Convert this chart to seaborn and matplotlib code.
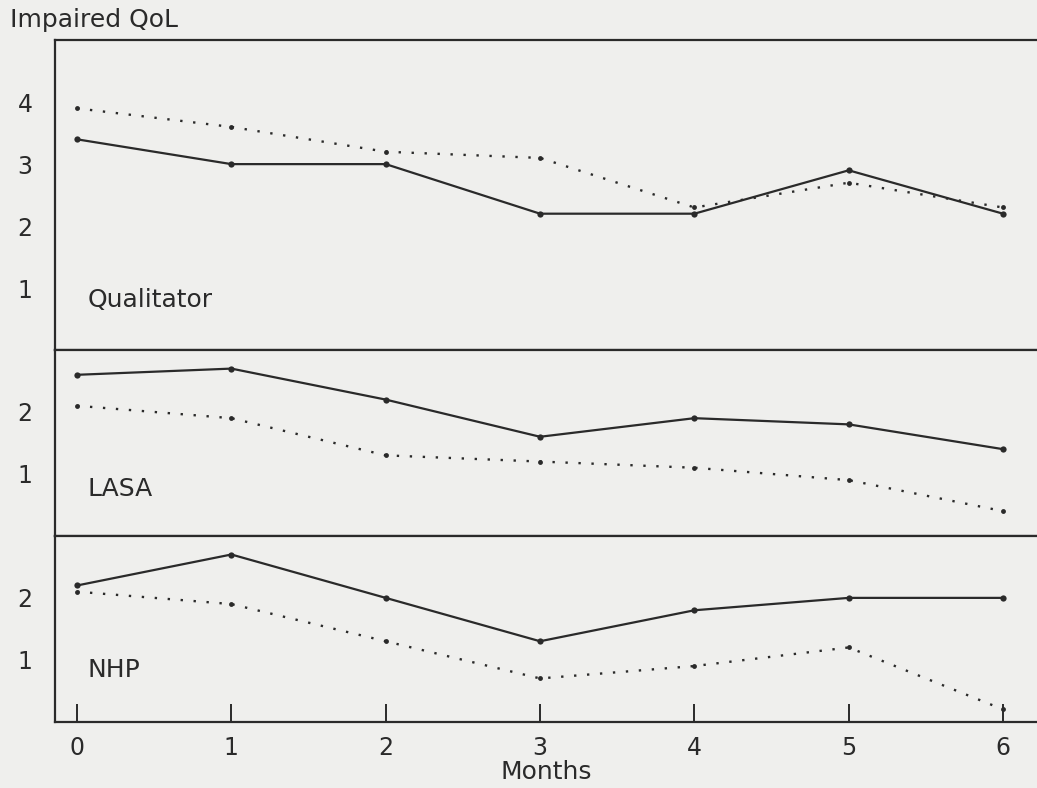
import matplotlib
matplotlib.use("Agg")
import matplotlib.pyplot as plt
import seaborn as sns
import pandas as pd

# Follow-up time points
months = [0, 1, 2, 3, 4, 5, 6]

# Impaired quality of life per instrument, two series each (solid / dotted)
qualitator_solid = [3.4, 3.0, 3.0, 2.2, 2.2, 2.9, 2.2]
qualitator_dotted = [3.9, 3.6, 3.2, 3.1, 2.3, 2.7, 2.3]

lasa_solid = [2.6, 2.7, 2.2, 1.6, 1.9, 1.8, 1.4]
lasa_dotted = [2.1, 1.9, 1.3, 1.2, 1.1, 0.9, 0.4]

nhp_solid = [2.2, 2.7, 2.0, 1.3, 1.8, 2.0, 2.0]
nhp_dotted = [2.1, 1.9, 1.3, 0.7, 0.9, 1.2, 0.2]

panel_names = ["Qualitator", "LASA", "NHP"]
panel_ylims = [(0, 5), (0, 3), (0, 3)]
panel_yticks = [[1, 2, 3, 4], [1, 2], [1, 2]]
panel_label_y = [0.81, 0.75, 0.84]
x_ticks = [0, 1, 2, 3, 4, 5, 6]

panels = [
    (qualitator_solid, qualitator_dotted),
    (lasa_solid, lasa_dotted),
    (nhp_solid, nhp_dotted),
]

sns.set_style("white")
bg = "#efefed"
ink = "#2a2a2a"
plt.rcParams["font.family"] = ["DejaVu Sans"]

fig = plt.figure(figsize=(10.37, 7.88), dpi=100, facecolor=bg)
gs = fig.add_gridspec(3, 1, height_ratios=[5, 3, 3], hspace=0,
                      left=0.053, right=1.0, top=0.949, bottom=0.084)
axes = [fig.add_subplot(gs[i]) for i in range(3)]
for i in range(1, 3):
    axes[i].sharex(axes[0])

for ax, name, (solid, dotted), ylim, yt, ly in zip(
        axes, panel_names, panels, panel_ylims, panel_yticks, panel_label_y):
    ax.set_facecolor(bg)
    df = pd.DataFrame({"month": months, "solid": solid, "dotted": dotted})
    sns.lineplot(data=df, x="month", y="solid", ax=ax, color=ink,
                 linewidth=1.6, marker="o", markersize=4.5,
                 markeredgewidth=0, linestyle="-")
    sns.lineplot(data=df, x="month", y="dotted", ax=ax, color=ink,
                 linewidth=1.7, marker="o", markersize=3.5,
                 markeredgewidth=0, linestyle=(0, (1, 4.5)))
    ax.set_ylim(*ylim)
    ax.set_xlim(-0.143, 6.22)
    ax.set_yticks(yt)
    ax.set_yticklabels([str(v) for v in yt])
    ax.set_xlabel("")
    ax.set_ylabel("")
    ax.tick_params(axis="y", direction="in", length=10, width=1.4,
                   color=ink, labelsize=17, pad=16, labelcolor=ink)
    for side in ["left", "top", "bottom"]:
        ax.spines[side].set_visible(True)
        ax.spines[side].set_color(ink)
        ax.spines[side].set_linewidth(1.6)
    ax.spines["right"].set_visible(False)
    ax.text(0.07, ly, name, fontsize=18, color=ink, va="center", ha="left")

for ax in axes[:2]:
    ax.tick_params(axis="x", bottom=False, labelbottom=False)

axes[2].set_xticks(x_ticks)
axes[2].set_xticklabels([str(v) for v in x_ticks])
axes[2].tick_params(axis="x", bottom=True, direction="in", length=13,
                    width=1.4, color=ink, labelsize=17, pad=10,
                    labelcolor=ink)
axes[2].set_xlabel("Months", fontsize=18, color=ink, labelpad=0)

fig.text(0.01, 0.99, "Impaired QoL", fontsize=18, color=ink,
         ha="left", va="top")

fig.savefig("out.png", dpi=100, facecolor=bg)
